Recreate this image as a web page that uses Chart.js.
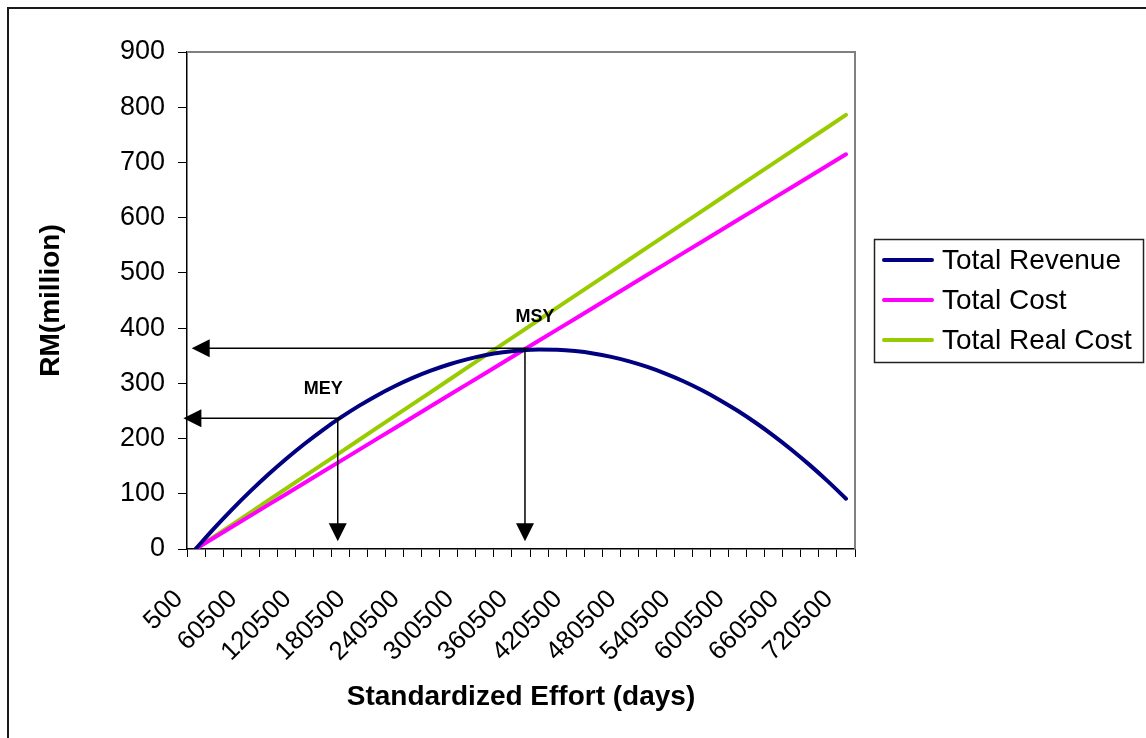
<!DOCTYPE html>
<html>
<head>
<meta charset="utf-8">
<script src="https://cdn.jsdelivr.net/npm/chart.js@4.4.1/dist/chart.umd.min.js"></script>
<style>
html, body { margin: 0; padding: 0; background: #fff; }
#wrap { position: relative; width: 1146px; height: 738px; }
</style>
</head>
<body>
<div id="wrap"><canvas id="chart" width="1146" height="738"></canvas></div>
<script>
// standardized effort (days), one category every 20000 days
var effort = ["500", "20500", "40500", "60500", "80500", "100500", "120500", "140500", "160500",
  "180500", "200500", "220500", "240500", "260500", "280500", "300500", "320500", "340500",
  "360500", "380500", "400500", "420500", "440500", "460500", "480500", "500500", "520500",
  "540500", "560500", "580500", "600500", "620500", "640500", "660500", "680500", "700500", "720500"];

// RM(million)
var totalRevenue = [0.9, 37.3, 71.8, 104.3, 134.9, 163.5, 190.2, 215.0, 237.8, 258.7, 277.7, 294.7,
  309.8, 322.9, 334.1, 343.4, 350.8, 356.2, 359.6, 361.2, 360.8, 358.4, 354.2, 347.9, 339.8, 329.7,
  317.7, 303.8, 287.9, 270.0, 250.3, 228.6, 205.0, 179.4, 151.9, 122.4, 91.1];
var totalCost = [0.5, 20.3, 40.2, 60.0, 79.9, 99.7, 119.5, 139.4, 159.2, 179.1, 198.9, 218.7, 238.6,
  258.4, 278.3, 298.1, 317.9, 337.8, 357.6, 377.5, 397.3, 417.1, 437.0, 456.8, 476.7, 496.5, 516.3,
  536.2, 556.0, 575.9, 595.7, 615.5, 635.4, 655.2, 675.1, 694.9, 714.7];
var totalRealCost = [0.5, 22.4, 44.2, 66.0, 87.8, 109.6, 131.5, 153.3, 175.1, 196.9, 218.8, 240.6,
  262.4, 284.2, 306.0, 327.9, 349.7, 371.5, 393.3, 415.1, 437.0, 458.8, 480.6, 502.4, 524.2, 546.1,
  567.9, 589.7, 611.5, 633.3, 655.2, 677.0, 698.8, 720.6, 742.4, 764.2, 786.1];

// MEY / MSY markers: [category index, RM value, horizontal arrow tip index]
var meyMark = [7.85, 236.7, -0.7];
var msyMark = [18.22, 363.5, -0.24];
var arrowFloor = 14; // vertical arrows stop just above zero

var FONT = "'Liberation Sans', Arial, sans-serif";

function arrowHead(ctx, x, y, dir) {
  // filled triangle, tip at x,y
  ctx.beginPath();
  ctx.moveTo(x, y);
  if (dir === 'left') { ctx.lineTo(x + 18, y - 9); ctx.lineTo(x + 18, y + 9); }
  else { ctx.lineTo(x - 9, y - 18); ctx.lineTo(x + 9, y - 18); }
  ctx.closePath();
  ctx.fill();
}

var extras = {
  id: 'extras',
  beforeDraw: function (chart) {
    var ctx = chart.ctx;
    ctx.save();
    ctx.fillStyle = '#fff';
    ctx.fillRect(0, 0, chart.width, chart.height);
    // outer frame
    ctx.strokeStyle = '#1a1a1a';
    ctx.lineWidth = 2;
    ctx.beginPath();
    ctx.moveTo(8, 740); ctx.lineTo(8, 8); ctx.lineTo(1150, 8);
    ctx.stroke();
    ctx.restore();
  },
  beforeDatasetsDraw: function (chart) {
    var a = chart.chartArea, ctx = chart.ctx;
    ctx.save();
    ctx.strokeStyle = '#808080';
    ctx.lineWidth = 2;
    ctx.beginPath();
    ctx.moveTo(a.left, a.top); ctx.lineTo(a.right, a.top); ctx.lineTo(a.right, a.bottom);
    ctx.stroke();
    ctx.restore();
  },
  afterDatasetsDraw: function (chart) {
    var ctx = chart.ctx, xs = chart.scales.x, ys = chart.scales.y;
    ctx.save();
    ctx.strokeStyle = '#000';
    ctx.fillStyle = '#000';
    ctx.lineWidth = 1.5;
    [meyMark, msyMark].forEach(function (m) {
      var px = xs.getPixelForValue(m[0]);
      var py = ys.getPixelForValue(m[1]);
      var tipX = xs.getPixelForValue(m[2]);
      var tipY = ys.getPixelForValue(arrowFloor);
      ctx.beginPath();
      ctx.moveTo(px + 4, py); ctx.lineTo(tipX + 16, py);
      ctx.moveTo(px, py); ctx.lineTo(px, tipY - 16);
      ctx.stroke();
      arrowHead(ctx, tipX, py, 'left');
      arrowHead(ctx, px, tipY, 'down');
    });
    ctx.font = 'bold 18px ' + FONT;
    ctx.textAlign = 'center';
    ctx.textBaseline = 'middle';
    ctx.fillText('MEY', xs.getPixelForValue(meyMark[0] - 0.8), ys.getPixelForValue(meyMark[1] + 53));
    ctx.fillText('MSY', xs.getPixelForValue(msyMark[0] + 0.55), ys.getPixelForValue(msyMark[1] + 57));
    ctx.restore();
  },
  afterDraw: function (chart) {
    // legend box on the right
    var ctx = chart.ctx;
    ctx.save();
    ctx.strokeStyle = '#222';
    ctx.lineWidth = 1.5;
    ctx.strokeRect(874.5, 239.5, 269, 123);
    ctx.font = '28px ' + FONT;
    ctx.textAlign = 'left';
    ctx.textBaseline = 'middle';
    ctx.lineCap = 'round';
    chart.data.datasets.forEach(function (ds, i) {
      var y = 260 + i * 40;
      ctx.strokeStyle = ds.borderColor;
      ctx.lineWidth = 4;
      ctx.beginPath(); ctx.moveTo(884, y); ctx.lineTo(932, y); ctx.stroke();
      ctx.fillStyle = '#000';
      ctx.fillText(ds.label, 942, y + 1);
    });
    ctx.restore();
  }
};

var theChart = new Chart(document.getElementById('chart'), {
  type: 'line',
  data: {
    labels: effort,
    datasets: [
      { label: 'Total Revenue', data: totalRevenue, borderColor: '#000080', cubicInterpolationMode: 'monotone' },
      { label: 'Total Cost', data: totalCost, borderColor: '#FF00FF' },
      { label: 'Total Real Cost', data: totalRealCost, borderColor: '#99CC00' }
    ]
  },
  options: {
    responsive: false,
    animation: false,
    devicePixelRatio: 1,
    layout: { padding: { left: 0, top: 52, right: 291, bottom: 0 } },
    elements: {
      line: { borderWidth: 4, borderCapStyle: 'round', borderJoinStyle: 'round' },
      point: { radius: 0 }
    },
    plugins: { legend: { display: false }, tooltip: { enabled: false } },
    scales: {
      x: {
        offset: true,
        grid: { offset: true, drawOnChartArea: false, drawTicks: true, tickLength: 8, color: '#000', lineWidth: 1 },
        border: { display: true, color: '#000', width: 1.5 },
        ticks: {
          autoSkip: false, maxRotation: 45, minRotation: 45, padding: 27, labelOffset: -17,
          color: '#000', font: { family: FONT, size: 26 },
          callback: function (v, i) { return i % 3 === 0 ? this.getLabelForValue(v) : ''; }
        },
        title: { display: true, text: 'Standardized Effort (days)', color: '#000',
          font: { family: FONT, size: 28, weight: 'bold' }, padding: { top: 24, bottom: 24 } },
        afterFit: function (s) { s.height = 189; }
      },
      y: {
        min: 0, max: 900,
        grid: { drawOnChartArea: false, drawTicks: true, tickLength: 9, color: '#000', lineWidth: 1 },
        border: { display: true, color: '#000', width: 1.5 },
        ticks: { stepSize: 100, padding: 13, color: '#000', font: { family: FONT, size: 27 } },
        title: { display: true, text: 'RM(million)', color: '#000',
          font: { family: FONT, size: 28, weight: 'bold' }, padding: { top: 34, bottom: 0 } },
        afterFit: function (s) { s.width = 187; }
      }
    }
  },
  plugins: [extras]
});
</script>
</body>
</html>
